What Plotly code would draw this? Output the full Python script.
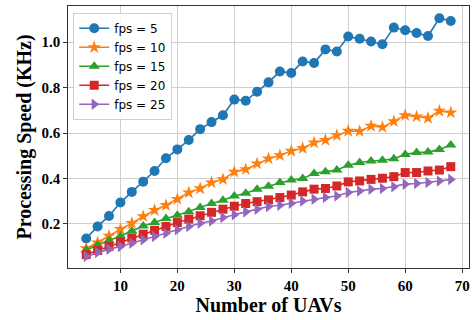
import plotly.graph_objects as go

# Number of UAVs on the x axis
num_uavs = list(range(4, 70, 2))

# Processing speed (KHz) per frame rate
speed_fps5 = [0.136, 0.189, 0.235, 0.294, 0.341, 0.386, 0.433, 0.489, 0.528, 0.569,
              0.617, 0.648, 0.678, 0.747, 0.742, 0.782, 0.823, 0.871, 0.864, 0.915,
              0.908, 0.968, 0.959, 1.025, 1.015, 1.003, 0.991, 1.064, 1.052, 1.040,
              1.027, 1.105, 1.093]
speed_fps10 = [0.092, 0.118, 0.147, 0.177, 0.203, 0.233, 0.260, 0.282, 0.309, 0.338,
               0.356, 0.382, 0.396, 0.429, 0.440, 0.465, 0.487, 0.502, 0.521, 0.533,
               0.558, 0.569, 0.590, 0.609, 0.608, 0.631, 0.626, 0.651, 0.678, 0.672,
               0.666, 0.697, 0.690]
speed_fps15 = [0.085, 0.107, 0.127, 0.147, 0.169, 0.191, 0.206, 0.224, 0.238, 0.254,
               0.272, 0.290, 0.304, 0.323, 0.335, 0.353, 0.366, 0.382, 0.393, 0.400,
               0.422, 0.430, 0.437, 0.458, 0.470, 0.477, 0.480, 0.487, 0.506, 0.514,
               0.516, 0.528, 0.547]
speed_fps20 = [0.065, 0.083, 0.101, 0.120, 0.138, 0.155, 0.172, 0.189, 0.206, 0.221,
               0.236, 0.251, 0.265, 0.278, 0.290, 0.298, 0.306, 0.316, 0.327, 0.341,
               0.353, 0.356, 0.367, 0.385, 0.389, 0.396, 0.401, 0.408, 0.426, 0.426,
               0.433, 0.437, 0.452]
speed_fps25 = [0.057, 0.074, 0.089, 0.101, 0.115, 0.130, 0.145, 0.159, 0.174, 0.189,
               0.203, 0.213, 0.228, 0.240, 0.253, 0.265, 0.277, 0.282, 0.291, 0.301,
               0.309, 0.316, 0.323, 0.338, 0.345, 0.353, 0.356, 0.364, 0.375, 0.378,
               0.382, 0.389, 0.396]

series_names = ["fps = 5", "fps = 10", "fps = 15", "fps = 20", "fps = 25"]
x_ticks = [10, 20, 30, 40, 50, 60, 70]
y_ticks = [0.2, 0.4, 0.6, 0.8, 1.0]

colors = ["#1f77b4", "#ff7f0e", "#2ca02c", "#d62728", "#9467bd"]
symbols = ["circle", "star", "triangle-up", "square", "triangle-right"]
sizes = [10, 10, 10, 9, 10]

fig = go.Figure()
for name, ys, c, s, sz in zip(series_names,
                              [speed_fps5, speed_fps10, speed_fps15, speed_fps20, speed_fps25],
                              colors, symbols, sizes):
    fig.add_trace(go.Scatter(
        x=num_uavs, y=ys, name=name, mode="lines+markers",
        line=dict(color=c, width=1.6),
        marker=dict(symbol=s, size=sz, color=c, line=dict(width=0)),
    ))

axis_font = dict(family="Liberation Serif", size=15, color="black", weight="bold")
title_font = dict(family="Liberation Serif", size=20, color="black", weight="bold")

fig.update_layout(
    width=473, height=320,
    margin=dict(l=68, r=4, t=6, b=52),
    paper_bgcolor="white", plot_bgcolor="white",
    showlegend=True,
    legend=dict(
        x=0.013, y=0.974, xanchor="left", yanchor="top",
        bgcolor="rgba(255,255,255,0.85)", bordercolor="#d0d0d0", borderwidth=1,
        font=dict(family="DejaVu Sans", size=12, color="black"),
        tracegroupgap=0, itemwidth=30,
    ),
)
fig.update_xaxes(
    range=[0.8, 71.2], tickvals=x_ticks, ticktext=[str(v) for v in x_ticks],
    showgrid=True, gridcolor="#cfcfcf", gridwidth=1.2,
    showline=True, linecolor="#333333", linewidth=1.3, mirror=True,
    ticks="outside", ticklen=3.5, tickcolor="#333333", tickwidth=1,
    tickfont=axis_font, zeroline=False,
    title=dict(text="Number of UAVs", font=title_font, standoff=2),
)
fig.update_yaxes(
    range=[0.006, 1.159], tickvals=y_ticks, ticktext=[f"{v:.1f}" for v in y_ticks],
    showgrid=True, gridcolor="#cfcfcf", gridwidth=1.2,
    showline=True, linecolor="#333333", linewidth=1.3, mirror=True,
    ticks="outside", ticklen=3.5, tickcolor="#333333", tickwidth=1,
    tickfont=axis_font, zeroline=False,
    title=dict(text="Processing Speed (KHz)", font=title_font, standoff=4),
)

fig.write_html("out.html")
